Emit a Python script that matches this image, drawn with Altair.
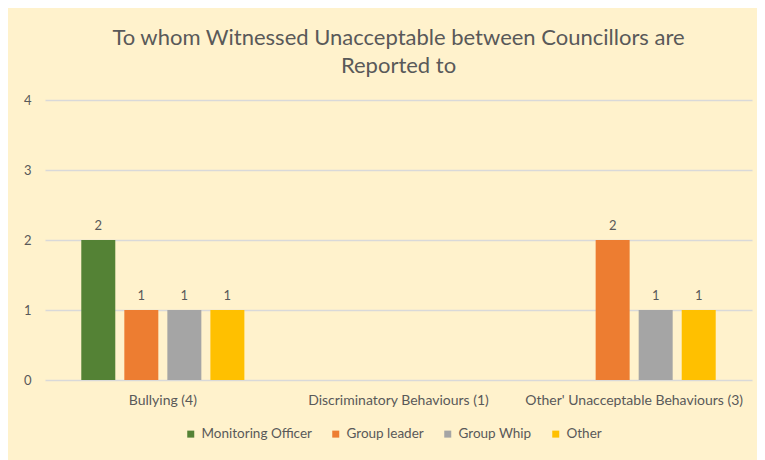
import altair as alt
import pandas as pd

categories = ["Bullying (4)", "Discriminatory Behaviours (1)", "Other' Unacceptable Behaviours (3)"]
series = ["Monitoring Officer", "Group leader", "Group Whip", "Other"]
monitoring_officer = [2, 0, 0]
group_leader = [1, 0, 2]
group_whip = [1, 0, 1]
other = [1, 0, 1]
colors = ["#548235", "#ED7D31", "#A5A5A5", "#FFC000"]
title_lines = ["To whom Witnessed Unacceptable between Councillors are", "Reported to"]

rows = []
for s, vals in zip(series, [monitoring_officer, group_leader, group_whip, other]):
    for c, v in zip(categories, vals):
        rows.append({"category": c, "series": s, "value": v})
df = pd.DataFrame(rows)

FONT = "Lato"
TXT = "#595959"

base = alt.Chart(df).encode(
    x=alt.X(
        "category:N",
        sort=categories,
        scale=alt.Scale(domain=categories, paddingInner=0.308, paddingOuter=0.154),
        axis=alt.Axis(title=None, labelAngle=0, domain=False, ticks=False,
                      labelPadding=13, labelFontSize=14, labelColor=TXT,
                      labelFont=FONT, labelLimit=400),
    ),
    xOffset=alt.XOffset("series:N", sort=series,
                        scale=alt.Scale(domain=series, paddingInner=0.21, paddingOuter=0)),
)

bars = base.mark_bar().encode(
    y=alt.Y("value:Q", scale=alt.Scale(domain=[0, 4]),
            axis=alt.Axis(title=None, values=[0, 1, 2, 3, 4], format="d", domain=False, ticks=False,
                          gridColor="#D9D9D9", gridWidth=1.5, labelPadding=14,
                          labelFontSize=13, labelColor=TXT, labelFont=FONT)),
    color=alt.Color("series:N", sort=series,
                    scale=alt.Scale(domain=series, range=colors),
                    legend=alt.Legend(title=None, orient="none", direction="horizontal",
                                      legendX=139, legendY=327,
                                      symbolType="square", symbolSize=49, symbolStrokeWidth=0,
                                      labelFontSize=13.5, labelColor=TXT, labelFont=FONT,
                                      labelOffset=4, columnPadding=17)),
)

labels = base.transform_filter("datum.value > 0").mark_text(
    baseline="bottom", dy=-7, fontSize=13, color=TXT, font=FONT
).encode(y="value:Q", text="value:Q")

chart = alt.layer(bars, labels).properties(
    width=707,
    height=280,
    autosize=alt.AutoSizeParams(type="none"),
    padding={"left": 37, "top": 92, "right": 5, "bottom": 80},
    background="#FFF2CC",
    title=alt.TitleParams(text=title_lines, fontSize=22, font=FONT, fontWeight="normal",
                          color=TXT, lineHeight=28, offset=16, anchor="middle"),
).configure_view(stroke=None)

chart.save("out.html", embed_options={"renderer": "svg", "actions": False})
